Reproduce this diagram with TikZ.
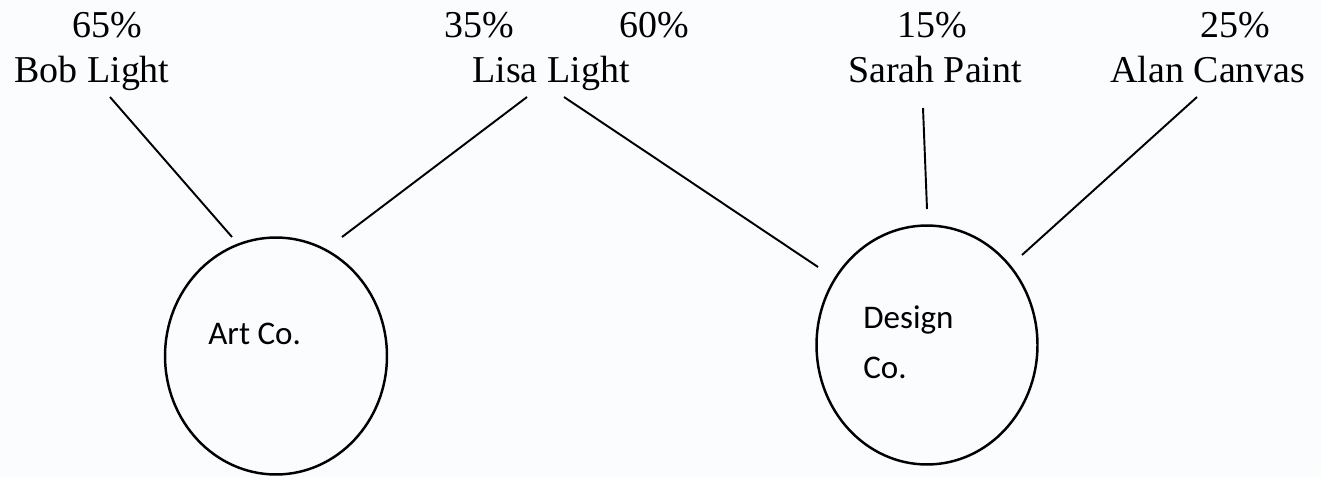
\documentclass[tikz,border=0pt]{standalone}
\usepackage{fontspec}
\setmainfont{Liberation Serif}
\newfontfamily\firmfont{Carlito}
\usetikzlibrary{shapes.geometric}
\definecolor{paper}{RGB}{251,252,254}
\tikzset{
  link/.style = {color=#1, line width=1.1pt},
  firm/.style = {ellipse, draw=#1, line width=1.4pt, inner sep=0pt},
  owner/.style = {anchor=base, inner sep=0pt, font=\fontsize{21.6}{26}\selectfont},
  share/.style = {anchor=base, inner sep=0pt, font=\fontsize{21.6}{26}\selectfont},
  firmname/.style = {anchor=base west, inner sep=0pt, align=left, font=\firmfont\fontsize{18.8}{28}\selectfont}
}

\begin{document}
\begin{tikzpicture}[x=0.02cm, y=-0.02cm]

    % Page
    \fill[paper] (0,0) rectangle (1321,477);
    \useasboundingbox (0,0) rectangle (1321,477);

    % Coordinates
    \coordinate (bobA) at (110,97);
    \coordinate (bobB) at (232,237);
    \coordinate (lisaA) at (527,97);
    \coordinate (lisaB) at (342,237);
    \coordinate (lisaC) at (564,97);
    \coordinate (lisaD) at (818,267);
    \coordinate (sarahA) at (923,108);
    \coordinate (sarahB) at (927,209);
    \coordinate (alanA) at (1197,97);
    \coordinate (alanB) at (1022,255);

    % Companies
    \node[firm={black}, minimum width=4.44cm, minimum height=4.74cm] (art) at (276,356) {};
    \node[firm={black}, minimum width=4.42cm, minimum height=4.78cm] (design) at (927,345) {};
    \node[firmname] (artName) at (208,344) {Art Co.};
    \node[firmname] (designName) at (863,378) {Design\\Co.};

    % Owners
    \node[owner] (bob) at (92,82) {Bob Light};
    \node[owner] (lisa) at (551,82) {Lisa Light};
    \node[owner] (sarah) at (935,82) {Sarah Paint};
    \node[owner] (alan) at (1208,82) {Alan Canvas};

    % Shares
    \node[share] (bobArt) at (107,37) {65\%};
    \node[share] (lisaArt) at (479,37) {35\%};
    \node[share] (lisaDesign) at (654,37) {60\%};
    \node[share] (sarahDesign) at (932,37) {15\%};
    \node[share] (alanDesign) at (1235,37) {25\%};

    % Links
    \draw[link={black}] (bobA) -- (bobB);
    \draw[link={black}] (lisaA) -- (lisaB);
    \draw[link={black}] (lisaC) -- (lisaD);
    \draw[link={black}] (sarahA) -- (sarahB);
    \draw[link={black}] (alanA) -- (alanB);

\end{tikzpicture}
\end{document}
